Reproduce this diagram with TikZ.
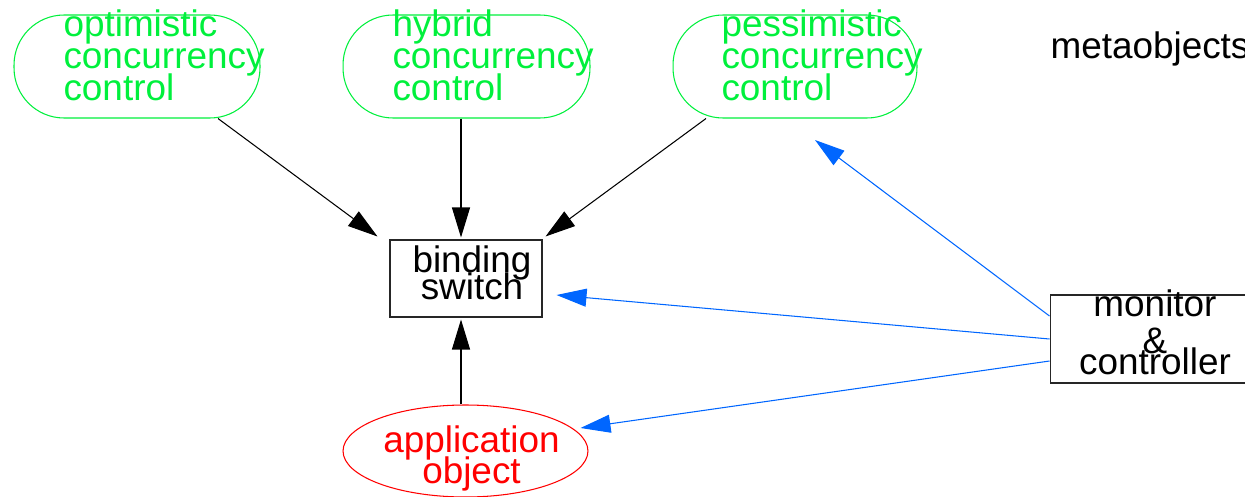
\documentclass[tikz,border=0pt]{standalone}
\usepackage{fontspec}
\setmainfont{Liberation Sans}
\usetikzlibrary{arrows.meta,calc,shapes.geometric}

\definecolor{ccgreen}{RGB}{0,240,60}
\definecolor{ccblue}{RGB}{0,102,255}
\newcommand{\bigsize}[1]{\fontsize{21}{#1}\selectfont\lineskiplimit=-20pt\relax}

\begin{document}
\begin{tikzpicture}[x=0.02cm, y=-0.02cm, line width=0.6pt,
  >={Triangle[length=0.6cm,width=0.36cm]},
  bigfont/.style={font={\bigsize{#1}}}]
\path [use as bounding box] (0,0) rectangle (1245,497);
\tikzstyle{ccshape} = [draw=ccgreen, rectangle, rounded corners=1cm, minimum height=2.06cm, inner sep=0pt]
\tikzstyle{cctext} = [text=ccgreen, bigfont=18.2pt, align=left, anchor=base west, inner sep=0pt]
\tikzstyle{box} = [draw=black!85, rectangle, inner sep=0pt]
\tikzstyle{boxtext} = [align=center, anchor=base, inner sep=0pt]
\tikzstyle{blueline} = [->, ccblue]
% concurrency control metaobjects
\node[ccshape, minimum width=4.92cm] (opt) at (137,66.5) {};
\node[ccshape, minimum width=4.94cm] (hyb) at (466.5,66.5) {};
\node[ccshape, minimum width=4.88cm] (pes) at (795,66.5) {};
\node[cctext] (optlbl) at (63,100) {optimistic\\concurrency\\control};
\node[cctext] (hyblbl) at (392,100) {hybrid\\concurrency\\control};
\node[cctext] (peslbl) at (721,100) {pessimistic\\concurrency\\control};
\node[bigfont=18pt, anchor=base west, inner sep=0pt] (meta) at (1050,58) {metaobjects};
% binding switch, application, monitor
\node[box, minimum width=3.04cm, minimum height=1.54cm] (bind) at (466,278.5) {};
\node[boxtext, bigfont=14.8pt] (bindlbl) at (472,299) {binding\\switch};
\node[draw=red, ellipse, minimum width=4.9cm, minimum height=1.84cm, inner sep=0pt] (app) at (465.5,451) {};
\node[boxtext, text=red, bigfont=17.6pt] (applbl) at (471.5,483) {application\\object};
\node[box, minimum width=4.24cm, minimum height=1.76cm] (mon) at (1156,339) {};
\node[boxtext, bigfont=16.5pt] (monlbl) at (1155,374) {monitor\\[5pt]\&\\[-5pt]controller};
\coordinate (pestip) at (815,140);
% connectors
	\draw[->] ($(opt.south)+(81,0)$) -- ($(bind.north west)+(-12,-3)$);
	\draw[->] ($(hyb.south)+(-5.5,0)$) -- ($(bind.north)+(-5,-2)$);
	\draw[->] ($(pes.south)+(-89,0)$) -- ($(bind.north east)+(3,-3)$);
	\draw[->] ($(app.north)+(-4.5,0)$) -- ($(bind.south)+(-5,2)$);
	\draw[blueline] ($(mon.west)+(0,-23)$) -- (pestip);
	\draw[blueline] (mon.west) -- ($(bind.east)+(14,16.5)$);
	\draw[blueline] ($(mon.west)+(0,22)$) -- ($(app.east)+(-8,-23)$);
\end{tikzpicture}
\end{document}
